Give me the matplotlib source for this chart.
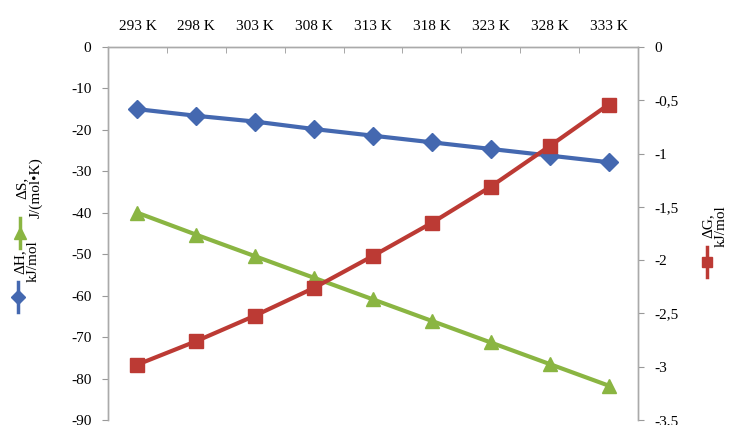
import matplotlib
matplotlib.use("Agg")
import matplotlib.pyplot as plt
import numpy as np
from matplotlib.lines import Line2D
from matplotlib.ticker import FuncFormatter, MultipleLocator, FixedLocator

plt.rcParams['font.family'] = ['Liberation Serif', 'DejaVu Serif']

categories = ["293 K", "298 K", "303 K", "308 K", "313 K", "318 K", "323 K", "328 K", "333 K"]
dH = [-15.0, -16.6, -18.0, -19.8, -21.4, -23.0, -24.6, -26.2, -27.8]
dS = [-40.0, -45.3, -50.5, -55.7, -60.9, -66.1, -71.3, -76.5, -81.7]
dG = [-2.98, -2.76, -2.52, -2.26, -1.96, -1.65, -1.31, -0.93, -0.54]

c_blue = '#4468B0'
c_red = '#BC3A34'
c_green = '#8AB542'

fig = plt.figure(figsize=(7.31, 4.25), dpi=100)
ax = fig.add_axes([108/731, 1-420/425, (638-108)/731, (420-47)/425])
ax2 = ax.twinx()

x = np.arange(len(categories))
ax.plot(x, dH, color=c_blue, lw=3, marker='D', ms=9, mfc=c_blue, mec=c_blue, zorder=3)
ax.plot(x, dS, color=c_green, lw=3, marker='^', ms=10, mfc=c_green, mec=c_green, zorder=3)
ax2.plot(x, dG, color=c_red, lw=3, marker='s', ms=10, mfc=c_red, mec=c_red, zorder=3)

ax.set_xlim(-0.5, len(categories) - 0.5)
ax.set_ylim(-90, 0)
ax2.set_ylim(-3.5, 0)
ax.yaxis.set_major_locator(MultipleLocator(10))
ax2.yaxis.set_major_locator(MultipleLocator(0.5))

def comma_fmt(v, pos):
    s = ('%g' % round(v, 2)).replace('.', ',')
    return s
ax2.yaxis.set_major_formatter(FuncFormatter(comma_fmt))
ax.yaxis.set_major_formatter(FuncFormatter(lambda v, p: '%d' % round(v)))

ax.xaxis.tick_top()
ax.set_xticks(x)
ax.set_xticklabels(categories)
ax.xaxis.set_minor_locator(FixedLocator(np.arange(0.5, len(categories) - 0.5, 1.0)))
ax.tick_params(axis='x', which='major', length=0, pad=10, labelsize=11)
ax.tick_params(axis='x', which='minor', length=4, direction='in', color='#999999', top=True, bottom=False)
ax.tick_params(axis='y', length=4, color='#999999', labelsize=11, pad=8)
ax2.tick_params(axis='y', length=4, color='#999999', labelsize=11, pad=8)

for a in (ax, ax2):
    a.spines['bottom'].set_visible(False)
    for s in ('top', 'left', 'right'):
        a.spines[s].set_color('#AAAAAA')
        a.spines[s].set_linewidth(1.0)

# legends (rotated)
def legend_entry(xc, ymark, color, marker, ms, text, xtext, ytext):
    y0 = 1 - ymark/425
    fig.add_artist(Line2D([xc/731, xc/731], [y0 - 15/425, y0 + 15/425],
                          color=color, lw=2.5, transform=fig.transFigure))
    fig.add_artist(Line2D([xc/731], [y0], color=color, marker=marker, ms=ms,
                          transform=fig.transFigure))
    fig.text(xtext/731, 1 - ytext/425, text, rotation=90, ha='center', va='bottom',
             fontsize=11, linespacing=1.0)

legend_entry(18, 297, c_blue, 'D', 7, "ΔH,\nkJ/mol", 27, 282)
legend_entry(20, 233, c_green, '^', 8, "ΔS,\nJ/(mol•K)", 29, 218)
legend_entry(707, 262, c_red, 's', 7, "ΔG,\nkJ/mol", 715, 247)

fig.savefig('out.png', dpi=100)
